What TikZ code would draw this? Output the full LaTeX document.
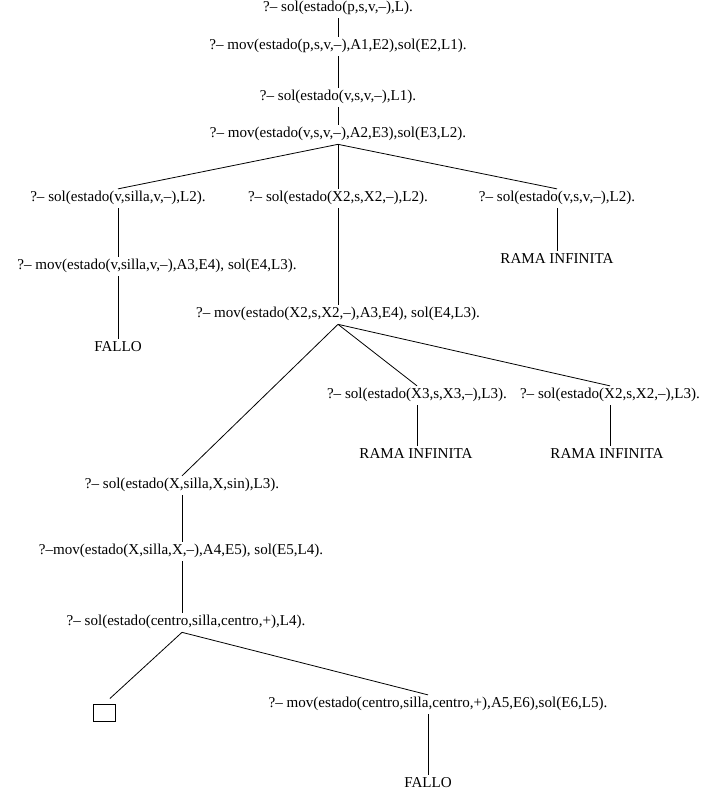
\documentclass[tikz,border=0pt]{standalone}
\usepackage{fontspec}
\setmainfont{Liberation Serif}
\usetikzlibrary{positioning,calc}

\begin{document}
\begin{tikzpicture}[
    x=0.75pt, y=-0.75pt, font=\fontsize{11.3}{13}\selectfont, line width=0.6pt,
    goal/.style={inner sep=2pt, text height=7.5pt, text depth=2.5pt, yshift=-1.2pt},
    empty/.style={draw, minimum width=16.5pt, minimum height=13pt, inner sep=0pt}
]
    \useasboundingbox (0,0) rectangle (705,791);
    % tronco
    \node[goal] (g1) at (338,7) {?– sol(estado(p,s,v,–),L).};
    \node[goal] (g2) at (338,45) {?– mov(estado(p,s,v,–),A1,E2),sol(E2,L1).};
    \node[goal] (g3) at (338,96) {?– sol(estado(v,s,v,–),L1).};
    \node[goal] (g4) at (338,133) {?– mov(estado(v,s,v,–),A2,E3),sol(E3,L2).};
    % primer nivel de ramas
    \node[goal] (s2a) at (118,197) {?– sol(estado(v,silla,v,–),L2).};
    \node[goal] (s2b) at (338,197) {?– sol(estado(X2,s,X2,–),L2).};
    \node[goal] (s2c) at (557,197) {?– sol(estado(v,s,v,–),L2).};
    \node[goal] (m3a) at (157,265) {?– mov(estado(v,silla,v,–),A3,E4), sol(E4,L3).};
    \node[goal] (rama1) at (557,259) {RAMA INFINITA};
    \node[goal] (fallo1) at (118,347) {FALLO};
    \node[goal] (m3b) at (338,313) {?– mov(estado(X2,s,X2,–),A3,E4), sol(E4,L3).};
    % segundo nivel
    \node[goal] (s3b) at (417,394) {?– sol(estado(X3,s,X3,–),L3).};
    \node[goal] (s3c) at (610,394) {?– sol(estado(X2,s,X2,–),L3).};
    \node[goal] (rama2) at (416,454) {RAMA INFINITA};
    \node[goal] (rama3) at (607,454) {RAMA INFINITA};
    \node[goal] (s3a) at (182,484) {?– sol(estado(X,silla,X,sin),L3).};
    \node[goal] (m4) at (181,550) {?–mov(estado(X,silla,X,–),A4,E5), sol(E5,L4).};
    \node[goal] (s4) at (186,621) {?– sol(estado(centro,silla,centro,+),L4).};
    % final
    \node[empty] (exito) at (104,713) {};
    \node[goal] (m5) at (438,703) {?– mov(estado(centro,silla,centro,+),A5,E6),sol(E6,L5).};
    \node[goal] (fallo2) at (428,783) {FALLO};

    \draw (g1) -- (g2);
    \draw (g2) -- (g3);
    \draw (g3) -- (g4);
    \draw (g4.south) -- (s2a.north);
    \draw (g4.south) -- (s2b.north);
    \draw (g4.south) -- (s2c.north);
    \draw (s2a.south) -- (s2a.south |- m3a.north);
    \draw (m3a.south -| fallo1) -- (fallo1.north);
    \draw (s2c.south) -- (rama1.north);
    \draw (s2b.south) -- (m3b.north);
    \draw (m3b.south) -- (s3a.north);
    \draw (m3b.south) -- (s3b.north);
    \draw (m3b.south) -- (s3c.north);
    \draw (s3b.south) -- (s3b.south |- rama2.north);
    \draw (s3c.south) -- (s3c.south |- rama3.north);
    \draw (s3a.south) -- (s3a.south |- m4.north);
    \draw (m4.south -| s3a) -- (s4.north -| s3a);
    \draw[shorten >=6pt] (s4.south -| s3a) -- (exito.north);
    \draw (s4.south -| s3a) -- (m5.north -| fallo2);
    \draw (m5.south -| fallo2) -- (fallo2.north);
\end{tikzpicture}
\end{document}
